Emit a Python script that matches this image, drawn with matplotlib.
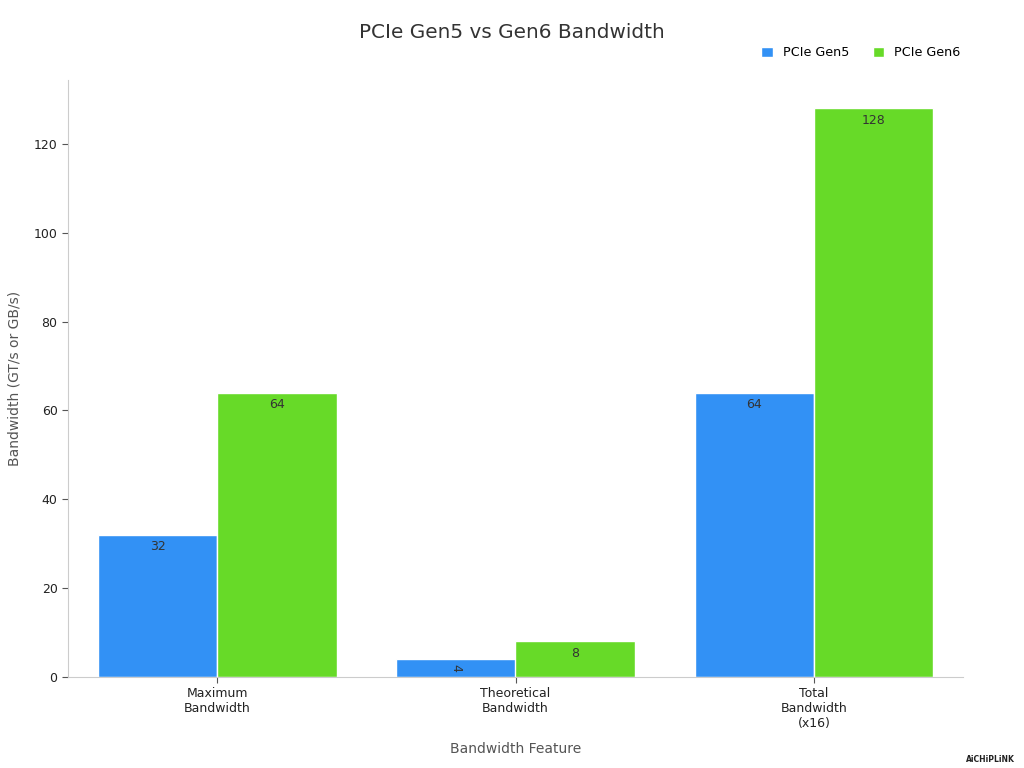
import numpy as np
import matplotlib.pyplot as plt

categories = ['Maximum\nBandwidth', 'Theoretical\nBandwidth', 'Total\nBandwidth\n(x16)']
gen5 = [32, 4, 64]
gen6 = [64, 8, 128]
series_names = ['PCIe Gen5', 'PCIe Gen6']

blue = '#3291F5'
green = '#67DA28'

fig = plt.figure(figsize=(10.24, 7.68), dpi=100)
ax = fig.add_axes([68 / 1024, 1 - 677 / 768, (963 - 68) / 1024, (677 - 80) / 768])

x = np.arange(len(categories))
w = 0.4
b5 = ax.bar(x - w / 2, gen5, w, color=blue, edgecolor='white', linewidth=1, label=series_names[0])
b6 = ax.bar(x + w / 2, gen6, w, color=green, edgecolor='white', linewidth=1, label=series_names[1])

for bars, vals in [(b5, gen5), (b6, gen6)]:
    for rect, v in zip(bars, vals):
        cx = rect.get_x() + rect.get_width() / 2
        if v < 6:
            ax.text(cx, v / 2, str(v), ha='center', va='center', rotation=270,
                    fontsize=9, color='#333333')
        else:
            ax.text(cx, v - 1.2, str(v), ha='center', va='top', fontsize=9, color='#333333')

ax.set_xlim(-0.5, 2.5)
ax.set_ylim(0, 134.4)
ax.set_yticks([0, 20, 40, 60, 80, 100, 120])
ax.set_xticks(x)
ax.set_xticklabels(categories, fontsize=9, color='#222222')
ax.tick_params(axis='y', labelsize=9, colors='#222222', length=4, color='#555555')
ax.tick_params(axis='x', length=4, color='#555555')

for s in ['top', 'right']:
    ax.spines[s].set_visible(False)
for s in ['left', 'bottom']:
    ax.spines[s].set_color('#cccccc')

ax.set_xlabel('Bandwidth Feature', fontsize=10, color='#555555', labelpad=8)
ax.set_ylabel('Bandwidth (GT/s or GB/s)', fontsize=10, color='#555555', labelpad=9)

fig.text(0.5, 1 - 33 / 768, 'PCIe Gen5 vs Gen6 Bandwidth', ha='center', va='center',
         fontsize=14.4, color='#333333')

fig.legend(handles=[b5, b6], loc='center right', bbox_to_anchor=(972 / 1024, 1 - 53 / 768),
           ncol=2, frameon=False, fontsize=9.2, handlelength=0.9, handleheight=0.9,
           columnspacing=1.8, handletextpad=0.8)

fig.text(990 / 1024, 1 - 759 / 768, 'AiCHiPLiNK', ha='center', va='center',
         fontsize=5.5, color='#222222', fontweight='bold')

fig.savefig('out.png', dpi=100)
